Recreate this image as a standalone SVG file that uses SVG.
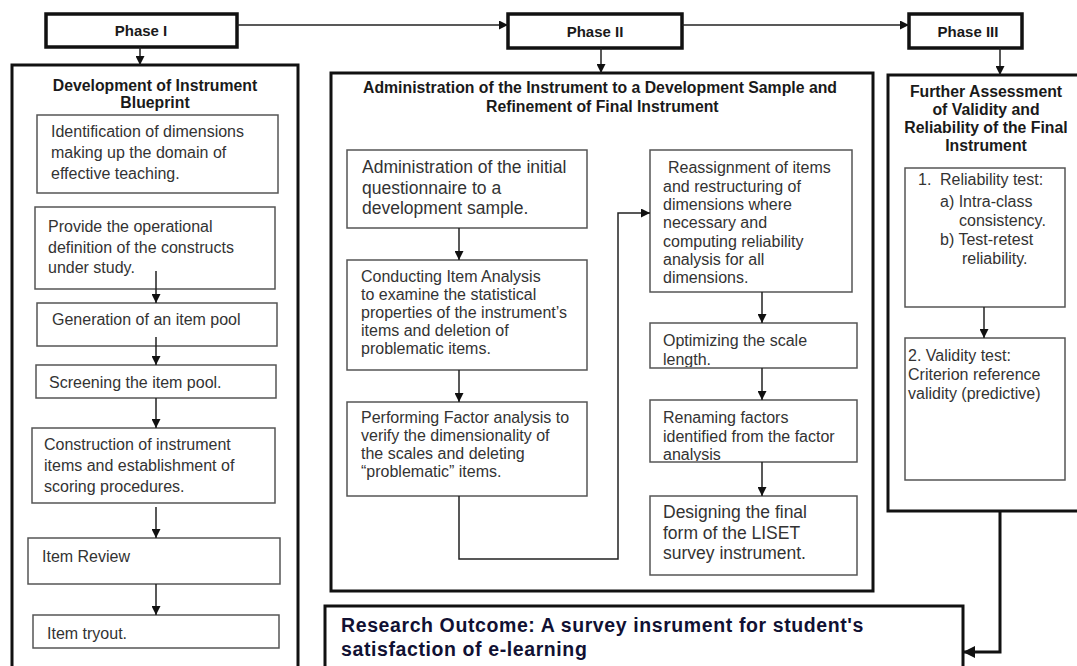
<svg xmlns="http://www.w3.org/2000/svg" width="1077" height="666" viewBox="0 0 1077 666">
<defs>
<style>
text{font-family:"Liberation Sans",Arial,sans-serif;}
.phase{fill:#fff;stroke:#111;stroke-width:3.5;}
.cont{fill:#fff;stroke:#111;stroke-width:3;}
.box{fill:#fff;stroke:#555;stroke-width:1.5;}
.pt{font-size:15px;font-weight:bold;fill:#1a1a1a;text-anchor:middle;}
.ct{font-size:15.8px;font-weight:bold;fill:#1a1a1a;}
.tx{font-size:16px;fill:#333;}
.tl{font-size:17.5px;fill:#333;}
.out{font-size:19.5px;font-weight:bold;fill:#111133;letter-spacing:0.6px;}
.ln{fill:none;stroke:#222;stroke-width:1.5;}
.lt{fill:none;stroke:#111;stroke-width:3;}
</style>
<marker id="ah" viewBox="0 0 10 10" refX="10" refY="5" markerWidth="9" markerHeight="9" markerUnits="userSpaceOnUse" orient="auto"><path d="M0,0 L10,5 L0,10 z" fill="#111"/></marker>
<marker id="ahb" viewBox="0 0 10 10" refX="10" refY="5" markerWidth="12" markerHeight="12" markerUnits="userSpaceOnUse" orient="auto"><path d="M0,0 L10,5 L0,10 z" fill="#111"/></marker>
<clipPath id="clipE"><rect x="651" y="324" width="205" height="43"/></clipPath>
<clipPath id="clipF"><rect x="651" y="401" width="205" height="60"/></clipPath>
</defs>

<g id="phase1"><rect class="phase" x="46" y="14" width="191" height="33"/><text class="pt" x="141" y="36">Phase I</text></g>
<g id="phase2"><rect class="phase" x="508" y="14" width="174" height="34"/><text class="pt" x="595" y="37">Phase II</text></g>
<g id="phase3"><rect class="phase" x="909" y="14" width="113" height="34"/><text class="pt" x="968" y="37">Phase III</text></g>

<g id="container1"><rect class="cont" x="12" y="65" width="286" height="620"/>
<text class="ct" x="155" y="91" text-anchor="middle">Development of Instrument</text>
<text class="ct" x="155" y="108" text-anchor="middle">Blueprint</text></g>

<g id="container2"><rect class="cont" x="331" y="73" width="542" height="518"/>
<text class="ct" x="363" y="93">Administration of the Instrument to a Development Sample and</text>
<text class="ct" x="486" y="112">Refinement of Final Instrument</text></g>

<g id="container3"><rect class="cont" x="888" y="75" width="210" height="436"/>
<text class="ct" x="986" y="97" text-anchor="middle">Further Assessment</text>
<text class="ct" x="986" y="115" text-anchor="middle">of Validity and</text>
<text class="ct" x="986" y="133" text-anchor="middle">Reliability of the Final</text>
<text class="ct" x="986" y="151" text-anchor="middle">Instrument</text></g>

<g id="l1"><rect class="box" x="37" y="115" width="241" height="78"/>
<text class="tx" x="51" y="137">Identification of dimensions</text>
<text class="tx" x="51" y="158">making up the domain of</text>
<text class="tx" x="51" y="179">effective teaching.</text></g>
<g id="l2"><rect class="box" x="35" y="207" width="240" height="82"/>
<text class="tx" x="48" y="232">Provide the operational</text>
<text class="tx" x="48" y="253">definition of the constructs</text>
<text class="tx" x="48" y="273">under study.</text></g>
<g id="l3"><rect class="box" x="37" y="303" width="240" height="43"/>
<text class="tx" x="52" y="325">Generation of an item pool</text></g>
<g id="l4"><rect class="box" x="36" y="365" width="240" height="33"/>
<text class="tx" x="49" y="388">Screening the item pool.</text></g>
<g id="l5"><rect class="box" x="32" y="428" width="243" height="75"/>
<text class="tx" x="44" y="450">Construction of instrument</text>
<text class="tx" x="44" y="471">items and establishment of</text>
<text class="tx" x="44" y="492">scoring procedures.</text></g>
<g id="l6"><rect class="box" x="28" y="538" width="252" height="46"/>
<text class="tx" x="42" y="562">Item Review</text></g>
<g id="l7"><rect class="box" x="33" y="615" width="246" height="33"/>
<text class="tx" x="47" y="639">Item tryout.</text></g>

<g id="m1"><rect class="box" x="347" y="150" width="240" height="78"/>
<text class="tl" x="362" y="173">Administration of the initial</text>
<text class="tl" x="362" y="194">questionnaire to a</text>
<text class="tl" x="362" y="214">development sample.</text></g>
<g id="m2"><rect class="box" x="347" y="260" width="240" height="110"/>
<text class="tx" x="361" y="282">Conducting Item Analysis</text>
<text class="tx" x="361" y="300">to examine the statistical</text>
<text class="tx" x="361" y="318">properties of the instrument’s</text>
<text class="tx" x="361" y="336">items and deletion of</text>
<text class="tx" x="361" y="354">problematic items.</text></g>
<g id="m3"><rect class="box" x="347" y="402" width="240" height="94"/>
<text class="tx" x="361" y="423">Performing Factor analysis to</text>
<text class="tx" x="361" y="441">verify the dimensionality of</text>
<text class="tx" x="361" y="459">the scales and deleting</text>
<text class="tx" x="361" y="477">“problematic” items.</text></g>
<g id="m4"><rect class="box" x="650" y="150" width="202" height="142"/>
<text class="tx" x="668" y="173">Reassignment of items</text>
<text class="tx" x="663" y="191.5">and restructuring of</text>
<text class="tx" x="663" y="210">dimensions where</text>
<text class="tx" x="663" y="228">necessary and</text>
<text class="tx" x="663" y="246.5">computing reliability</text>
<text class="tx" x="663" y="265">analysis for all</text>
<text class="tx" x="663" y="283">dimensions.</text></g>
<g id="m5"><rect class="box" x="650" y="323" width="207" height="45"/>
<g clip-path="url(#clipE)"><text class="tx" x="663" y="346">Optimizing the scale</text>
<text class="tx" x="663" y="365">length.</text></g></g>
<g id="m6"><rect class="box" x="650" y="400" width="207" height="62"/>
<g clip-path="url(#clipF)"><text class="tx" x="663" y="423">Renaming factors</text>
<text class="tx" x="663" y="441.5">identified from the factor</text>
<text class="tx" x="663" y="459.5">analysis</text></g></g>
<g id="m7"><rect class="box" x="650" y="496" width="207" height="79"/>
<text class="tl" x="663" y="518">Designing the final</text>
<text class="tl" x="663" y="539">form of the LISET</text>
<text class="tl" x="663" y="559">survey instrument.</text></g>

<g id="r1"><rect class="box" x="905" y="168" width="160" height="139"/>
<text class="tx" x="918" y="185">1.</text><text class="tx" x="940" y="185">Reliability test:</text>
<text class="tx" x="940" y="207">a) Intra-class</text>
<text class="tx" x="959" y="226">consistency.</text>
<text class="tx" x="940" y="245">b) Test-retest</text>
<text class="tx" x="962" y="264">reliability.</text></g>
<g id="r2"><rect class="box" x="905" y="338" width="160" height="142"/>
<text class="tx" x="908" y="361">2.  Validity test:</text>
<text class="tx" x="908" y="380">Criterion reference</text>
<text class="tx" x="908" y="399">validity (predictive)</text></g>

<g id="outcome"><rect class="cont" x="325" y="606" width="638" height="80"/>
<text class="out" x="341" y="632">Research Outcome: A survey insrument for student's</text>
<text class="out" x="341" y="656">satisfaction of e-learning</text></g>

<g id="connectors">
<path class="ln" d="M237,25 H508" marker-end="url(#ah)"/>
<path class="ln" d="M682,25 H909" marker-end="url(#ah)"/>
<path class="ln" d="M140,47 V65" stroke-width="2.5" marker-end="url(#ah)"/>
<path class="ln" d="M601,48 V73" stroke-width="2" marker-end="url(#ah)"/>
<path class="ln" d="M1000,48 V75" stroke-width="2" marker-end="url(#ah)"/>
<path class="ln" d="M156,271 V303" marker-end="url(#ah)"/>
<path class="ln" d="M156,337 V365" marker-end="url(#ah)"/>
<path class="ln" d="M156,398 V428" marker-end="url(#ah)"/>
<path class="ln" d="M156,507 V538" marker-end="url(#ah)"/>
<path class="ln" d="M156,584 V615" marker-end="url(#ah)"/>
<path class="ln" d="M459,228 V260" marker-end="url(#ah)"/>
<path class="ln" d="M459,370 V402" marker-end="url(#ah)"/>
<path class="ln" d="M459,496 V559 H618 V213 H650" marker-end="url(#ah)"/>
<path class="ln" d="M762,292 V323" marker-end="url(#ah)"/>
<path class="ln" d="M762,368 V400" marker-end="url(#ah)"/>
<path class="ln" d="M762,462 V496" marker-end="url(#ah)"/>
<path class="ln" d="M984,307 V338" marker-end="url(#ah)"/>
<path class="lt" d="M1000,511 V652 H963" marker-end="url(#ahb)"/>
</g>
</svg>
